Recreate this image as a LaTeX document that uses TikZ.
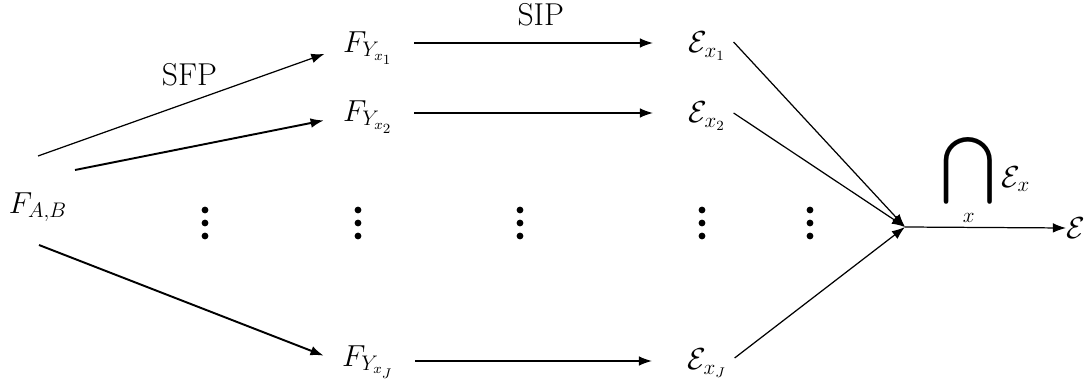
\documentclass[tikz,border=0pt]{standalone}
\usepackage{amsmath}
\usetikzlibrary{arrows.meta}
\tikzset{
  mathlbl/.style={font=\fontsize{17}{20}\selectfont, inner sep=1pt},
  txtlbl/.style={font=\rmfamily\fontsize{18}{21}\selectfont, inner sep=1pt},
  thinarr/.style={line width=0.7pt, -{Latex[length=7.5pt, width=5.5pt]}},
  thickarr/.style={line width=1.1pt, -{Latex[length=7.5pt, width=5.5pt]}},
  midarr/.style={line width=0.85pt, -{Latex[length=7.5pt, width=5.5pt]}}
}
\begin{document}
\begin{tikzpicture}[x=0.02cm, y=-0.02cm]
  \useasboundingbox (0,0) rectangle (1091,391);

  % --- Nguồn F_{A,B} ---
  \node[mathlbl] (FAB) at (38,207) {$F_{A,B}$};
  \coordinate (s1) at (38,156);
  \coordinate (s2) at (75,170);
  \coordinate (s3) at (39,245);

  % --- Cột F_{Y_x} ---
  \node[mathlbl] (FY1) at (368,48) {$F_{Y_{x_1}}$};
  \node[mathlbl] (FY2) at (368,117) {$F_{Y_{x_2}}$};
  \node[mathlbl] (FYJ) at (368,362) {$F_{Y_{x_J}}$};

  % --- Cột E_x ---
  \node[mathlbl] (E1) at (707,46) {$\mathcal{E}_{x_1}$};
  \node[mathlbl] (E2) at (707,116) {$\mathcal{E}_{x_2}$};
  \node[mathlbl] (EJ) at (707,363) {$\mathcal{E}_{x_J}$};

  % --- Điểm hội tụ và kết quả ---
  \coordinate (J) at (905,227);
  \node[mathlbl, anchor=west, inner sep=0pt] (E) at (1066,228) {$\mathcal{E}$};

  % --- Mũi tên SFP ---
  \draw[thinarr, shorten >=10pt] (s1) -- (FY1.west)
      node[pos=0.5, above=8pt, txtlbl] {SFP};
  \draw[thickarr, shorten >=10pt] (s2) -- (FY2.west);
  \draw[thickarr, shorten >=10pt] (s3) -- (FYJ.west);

  % --- Mũi tên SIP ---
  \draw[midarr, shorten <=11pt, shorten >=19pt] (FY1.east |- 0,43) -- (E1.west |- 0,43)
      node[midway, above=8pt, txtlbl] {SIP};
  \draw[midarr, shorten <=11pt, shorten >=19pt] (FY2.east |- 0,113) -- (E2.west |- 0,113);
  \draw[midarr, shorten <=11pt, shorten >=19pt] (FYJ.east |- 0,361) -- (EJ.west |- 0,361);

  % --- Hội tụ về J ---
  \draw[thinarr] (E1.east) ++(6,-4) -- (J);
  \draw[thinarr] (E2.east) ++(6,-3) -- (J);
  \draw[thinarr] (EJ.east) ++(6,-5) -- (J);
  \draw[thinarr] (J) -- (E.west)
      node[pos=0.5, above=1pt, inner sep=0pt] {\fontsize{17}{20}\selectfont
        $\displaystyle\mathop{\scalebox{2.2}{$\bigcap$}}_{x}\mathcal{E}_{x}$};

  % --- Dấu chấm dọc ---
  \foreach \xd in {205, 358, 520, 702, 810}
    \foreach \yd in {210, 223, 236}
      \fill (\xd,\yd) circle (3.4);
\end{tikzpicture}
\end{document}
